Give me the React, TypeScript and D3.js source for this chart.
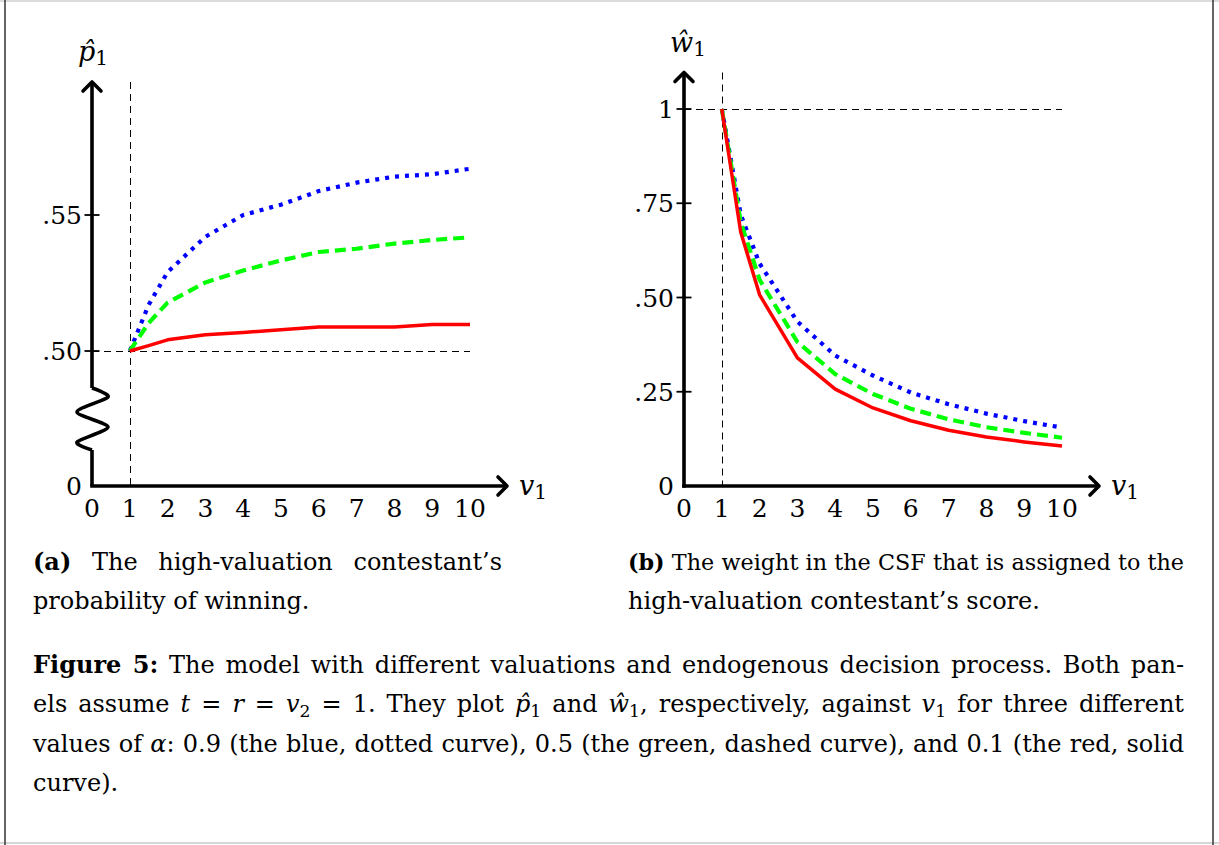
import * as d3 from 'd3'
import React from 'react'

// v1 grid used in both panels
const vValues = [1, 1.5, 2, 3, 4, 5, 6, 7, 8, 9, 10]
const xTickValues = [0, 1, 2, 3, 4, 5, 6, 7, 8, 9, 10]

// (a) p-hat_1
const pBlue = [0.5, 0.517, 0.529, 0.542, 0.55, 0.5538, 0.5588, 0.5619, 0.5641, 0.565, 0.567]
const pGreen = [0.5, 0.5103, 0.5178, 0.5252, 0.5296, 0.5333, 0.5364, 0.5376, 0.5395, 0.5408, 0.5418]
const pRed = [0.5, 0.502, 0.5041, 0.506, 0.5068, 0.5078, 0.5088, 0.5088, 0.5088, 0.5097, 0.5097]
const pTicks = [0.5, 0.55]
const pTickLabels = ['.50', '.55']

// (b) w-hat_1
const wBlue = [1, 0.72, 0.59, 0.436, 0.346, 0.293, 0.248, 0.217, 0.192, 0.172, 0.155]
const wGreen = [1, 0.7, 0.547, 0.382, 0.297, 0.244, 0.205, 0.177, 0.156, 0.141, 0.128]
const wRed = [1, 0.674, 0.507, 0.34, 0.257, 0.207, 0.173, 0.148, 0.13, 0.117, 0.106]
const wTicks = [0.25, 0.5, 0.75, 1]
const wTickLabels = ['.25', '.50', '.75', '1']

type Seg = { t: string, it?: boolean, bold?: boolean, sub?: boolean }

const capA1: Seg[] = [{ t: '(a)', bold: true }, { t: ' The high-valuation contestant’s' }]
const capA2: Seg[] = [{ t: 'probability of winning.' }]
const capB1: Seg[] = [{ t: '(b)', bold: true }, { t: ' The weight in the CSF that is assigned to the' }]
const capB2: Seg[] = [{ t: 'high-valuation contestant’s score.' }]
const cap1: Seg[] = [{ t: 'Figure 5:', bold: true }, { t: ' The model with different valuations and endogenous decision process. Both pan-' }]
const cap2: Seg[] = [
  { t: 'els assume ' }, { t: 't', it: true }, { t: ' = ' }, { t: 'r', it: true }, { t: ' = ' },
  { t: 'v', it: true }, { t: '2', sub: true }, { t: ' = 1. They plot ' }, { t: 'p\u0302', it: true }, { t: '1', sub: true },
  { t: ' and ' }, { t: 'ŵ', it: true }, { t: '1', sub: true }, { t: ', respectively, against ' },
  { t: 'v', it: true }, { t: '1', sub: true }, { t: ' for three different' },
]
const cap3: Seg[] = [
  { t: 'values of ' }, { t: 'α', it: true },
  { t: ': 0.9 (the blue, dotted curve), 0.5 (the green, dashed curve), and 0.1 (the red, solid' },
]
const cap4: Seg[] = [{ t: 'curve).' }]

const FONT = "'DejaVu Serif', serif"
const AXW = 3.6

const segs = (list: Seg[], size: number) => {
  let down = false
  return list.map((s, k) => {
    let dy: number | undefined
    if (s.sub && !down) { dy = size * 0.22; down = true }
    else if (!s.sub && down) { dy = -size * 0.22; down = false }
    return (
      <tspan key={k} dy={dy} fontStyle={s.it ? 'italic' : undefined}
        fontWeight={s.bold ? 'bold' : undefined} fontSize={s.sub ? size * 0.72 : undefined}>{s.t}</tspan>
    )
  })
}

// justified line: stretch the word gaps so the line fills `width`,
// or shrink the font a little when the line is too long for it
const Line = ({ x, y, list, width, size = 24 }: { x: number, y: number, list: Seg[], width?: number, size?: number }) => {
  const
    ref = React.useRef<SVGTextElement>(null),
    [ws, setWs] = React.useState(0),
    [fs, setFs] = React.useState(size)

  React.useLayoutEffect(() => {
    if (!width || !ref.current) return
    const
      natural = ref.current.getComputedTextLength(),
      gaps = list.map(s => s.t).join('').split(' ').length - 1
    if (natural > width + 0.5) setFs(f => f * (width - 1) / natural)
    else if (gaps > 0) setWs((width - natural) / gaps)
  }, [width, list, fs])

  return <text ref={ref} x={x} y={y} fontSize={fs} fontFamily={FONT}
    style={{ whiteSpace: 'pre', wordSpacing: ws ? `${ws}px` : undefined }}>{segs(list, fs)}</text>
}

const series = [
  { key: 'blue', color: '#0000ff', dash: '4 6', width: 4.2 },
  { key: 'green', color: '#00ff00', dash: '11 6', width: 4.2 },
  { key: 'red', color: '#ff0000', dash: undefined, width: 3.5 },
]

interface PanelProps {
  x: d3.ScaleLinear<number, number>
  y: d3.ScaleLinear<number, number>
  data: number[][]
  ticks: number[]
  tickLabels: string[]
  refValue: number
  topY: number
  label: string
  brk?: boolean
}

const Panel = ({ x, y, data, ticks, tickLabels, refValue, topY, label, brk }: PanelProps) => {
  const
    x0 = x(0),
    y0 = y(0),
    tipX = x(10) + 37,
    vx = Math.round(x(1)) + 0.5,
    hy = Math.round(y(refValue)) + 0.5,
    ln = d3.line<number>().x((_, i) => x(vValues[i])).y(d => y(d)),
    zig = d3.line<[number, number]>().curve(d3.curveCardinal.tension(0.2))
  const zz: [number, number][] = [[0, 388], [16, 397], [-15, 412], [16, 427], [-15, 442], [0, 450]]
  return (
    <g>
      {/* reference lines */}
      <line x1={vx} x2={vx} y1={topY} y2={y0} stroke='#000' strokeWidth={1} strokeDasharray='7 5' />
      <line x1={x0} x2={x(10)} y1={hy} y2={hy} stroke='#000' strokeWidth={1} strokeDasharray='7 5' />
      {/* axes */}
      {brk ? <>
        <line x1={x0} x2={x0} y1={y0} y2={450} stroke='#000' strokeWidth={AXW} />
        <path d={zig(zz.map(([dx, yy]) => [x0 + dx, yy])) as string} fill='none' stroke='#000' strokeWidth={AXW} />
        <line x1={x0} x2={x0} y1={388} y2={topY + 1} stroke='#000' strokeWidth={AXW} />
      </> : <line x1={x0} x2={x0} y1={y0 + AXW / 2} y2={topY + 1} stroke='#000' strokeWidth={AXW} />}
      <line x1={x0 - AXW / 2} x2={tipX - 1} y1={y0} y2={y0} stroke='#000' strokeWidth={AXW} />
      <path d={`M${tipX - 9},${y0 - 9} L${tipX},${y0} L${tipX - 9},${y0 + 9}`} fill='none' stroke='#000'
        strokeWidth={AXW} strokeLinecap='round' strokeLinejoin='round' />
      <path d={`M${x0 - 9},${topY + 9} L${x0},${topY} L${x0 + 9},${topY + 9}`} fill='none' stroke='#000'
        strokeWidth={AXW} strokeLinecap='round' strokeLinejoin='round' />
      {/* y ticks */}
      {ticks.map((t, i) => <g key={t}>
        <line x1={x0 - 7.5} x2={x0 + 7.5} y1={y(t)} y2={y(t)} stroke='#000' strokeWidth={1.8} />
        <text x={x0 - 10} y={y(t) + 9} textAnchor='end' fontSize={25} fontFamily={FONT}>{tickLabels[i]}</text>
      </g>)}
      <text x={x0 - 10} y={y0 + 9} textAnchor='end' fontSize={25} fontFamily={FONT}>0</text>
      {/* x tick labels */}
      {xTickValues.map(v =>
        <text key={v} x={x(v)} y={y0 + 31} textAnchor='middle' fontSize={25} fontFamily={FONT}>{v}</text>)}
      {/* axis labels */}
      <text x={tipX + 12} y={y0 + 9} fontSize={27} fontFamily={FONT} fontStyle='italic'>v
        <tspan fontStyle='normal' fontSize={20} dy={4}>1</tspan></text>
      <text x={x0 - 14} y={topY - 21} fontSize={27} fontFamily={FONT} fontStyle='italic'>{label}
        <tspan fontStyle='normal' fontSize={20} dy={4}>1</tspan></text>
      {/* curves */}
      {series.map((s, i) =>
        <path key={s.key} d={ln(data[i]) as string} fill='none' stroke={s.color} strokeWidth={s.width}
          strokeDasharray={s.dash} strokeLinejoin='round' />)}
    </g>
  )
}

export default function App() {
  const
    xa = d3.scaleLinear().domain([0, 10]).range([92, 470]),
    ya = d3.scaleLinear().domain([0, 0.5, 0.55]).range([486, 351, 215]),
    xb = d3.scaleLinear().domain([0, 10]).range([684, 1062]),
    yb = d3.scaleLinear().domain([0, 1]).range([486, 109])

  return (
    <svg width={1219} height={845} style={{ position: 'absolute', left: 0, top: 0, background: '#fff' }}>
      <rect width={1219} height={845} fill='#fff' />
      <line x1={0} x2={1219} y1={1} y2={1} stroke='#d0d0d0' strokeWidth={1.5} />
      <line x1={0} x2={1219} y1={843} y2={843} stroke='#c8c8c8' strokeWidth={1.5} />
      <line x1={5} x2={5} y1={0} y2={845} stroke='#333' strokeWidth={1.5} />
      <line x1={1213} x2={1213} y1={0} y2={845} stroke='#333' strokeWidth={1.5} />

      <Panel x={xa} y={ya} data={[pBlue, pGreen, pRed]} ticks={pTicks} tickLabels={pTickLabels}
        refValue={0.5} topY={82} label={'p\u0302'} brk />
      <Panel x={xb} y={yb} data={[wBlue, wGreen, wRed]} ticks={wTicks} tickLabels={wTickLabels}
        refValue={1} topY={72.5} label={'ŵ'} />

      <Line x={33} y={570} list={capA1} width={469} />
      <Line x={33} y={609} list={capA2} />
      <Line x={628} y={570} list={capB1} width={556} />
      <Line x={628} y={609} list={capB2} />

      <Line x={33} y={673} list={cap1} width={1151} />
      <Line x={33} y={712} list={cap2} width={1151} />
      <Line x={33} y={752} list={cap3} width={1151} />
      <Line x={33} y={791} list={cap4} />
    </svg>
  )
}
